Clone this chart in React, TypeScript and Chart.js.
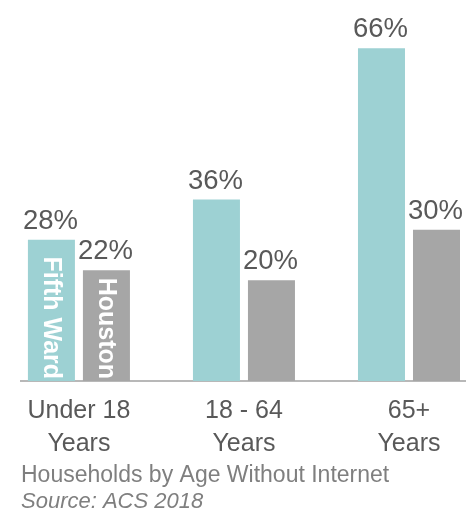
import React, { useEffect, useRef } from "react";
import { Chart, registerables } from "chart.js";

Chart.register(...registerables);

// Age groups shown along the x axis (multi-line labels)
const categories: string[][] = [
  ["Under 18", "Years"],
  ["18 - 64", "Years"],
  ["65+", "Years"],
];

const seriesNames = ["Fifth Ward", "Houston"];
const fifthWard = [28, 36, 66];
const houston = [22, 20, 30];

const titleText = "Households by Age Without Internet";
const sourceText = "Source: ACS 2018";

const TEAL = "#9DD1D3";
const GRAY = "#A6A6A6";
const LABEL = "#595959";
const NOTE = "#7F7F7F";
const FONT = "'Liberation Sans', Arial, sans-serif";

// Draws the percentage above each bar and the series name inside the first pair of bars
const barLabels = {
  id: "barLabels",
  afterDatasetsDraw(chart: any) {
    const ctx = chart.ctx;
    chart.data.datasets.forEach((ds: any, di: number) => {
      const meta = chart.getDatasetMeta(di);
      meta.data.forEach((bar: any, i: number) => {
        const v = ds.data[i].y;
        ctx.save();
        ctx.fillStyle = LABEL;
        ctx.font = `27.5px ${FONT}`;
        ctx.textAlign = "center";
        ctx.textBaseline = "alphabetic";
        ctx.fillText(`${v}%`, bar.x - 1, bar.y - 11);
        ctx.restore();
        if (i === 0) {
          ctx.save();
          ctx.translate(bar.x, bar.base - 2);
          ctx.rotate(Math.PI / 2);
          ctx.fillStyle = "#FFFFFF";
          ctx.font = `bold 25px ${FONT}`;
          ctx.textAlign = "right";
          ctx.textBaseline = "middle";
          ctx.fillText(ds.label, 0, 1);
          ctx.restore();
        }
      });
    });
  },
};

export default function App() {
  const canvasRef = useRef<HTMLCanvasElement | null>(null);

  useEffect(() => {
    if (!canvasRef.current) return;
    const chart = new Chart(canvasRef.current, {
      type: "bar",
      data: {
        datasets: [
          {
            label: seriesNames[0],
            data: fifthWard.map((v, i) => ({ x: i, y: v })),
            backgroundColor: TEAL,
            categoryPercentage: 0.6667,
            barPercentage: 0.8545,
          },
          {
            label: seriesNames[1],
            data: houston.map((v, i) => ({ x: i, y: v })),
            backgroundColor: GRAY,
            categoryPercentage: 0.6667,
            barPercentage: 0.8545,
          },
        ],
      },
      options: {
        responsive: false,
        animation: false,
        layout: { padding: { left: 21, right: 2, top: 28, bottom: 0 } },
        plugins: {
          legend: { display: false },
          tooltip: { enabled: false },
          title: {
            display: true,
            text: titleText,
            position: "bottom",
            align: "start",
            color: NOTE,
            font: { family: FONT, size: 23, weight: "normal", lineHeight: 1.2 },
            padding: { top: -13, bottom: 0 },
            weight: 1000,
          },
          subtitle: {
            display: true,
            text: sourceText,
            position: "bottom",
            align: "start",
            color: NOTE,
            font: { family: FONT, size: 22, style: "italic", lineHeight: 1.15 },
            padding: 0,
            weight: 1500,
          },
        },
        scales: {
          x: {
            type: "linear",
            offset: false,
            min: -0.351,
            max: 2.3394,
            bounds: "data",
            afterBuildTicks: (axis: any) => {
              axis.ticks = categories.map((_, i) => ({ value: i }));
            },
            grid: { display: false, drawTicks: false },
            border: { display: true, color: "#B8B8B8", width: 2 },
            ticks: {
              autoSkip: false,
              maxRotation: 0,
              padding: 14,
              color: LABEL,
              font: { family: FONT, size: 25, lineHeight: 1.32 },
              callback: (value: any) => categories[Math.round(Number(value))] ?? "",
            },
          },
          y: {
            display: false,
            min: 0,
            max: 70,
            grid: { display: false },
          },
        },
      },
      plugins: [barLabels],
    });
    return () => chart.destroy();
  }, []);

  return (
    <div style={{ position: "absolute", left: 0, top: 0, width: 467, height: 515, background: "#FFFFFF" }}>
      <canvas ref={canvasRef} width={467} height={515} style={{ display: "block" }} />
    </div>
  );
}
